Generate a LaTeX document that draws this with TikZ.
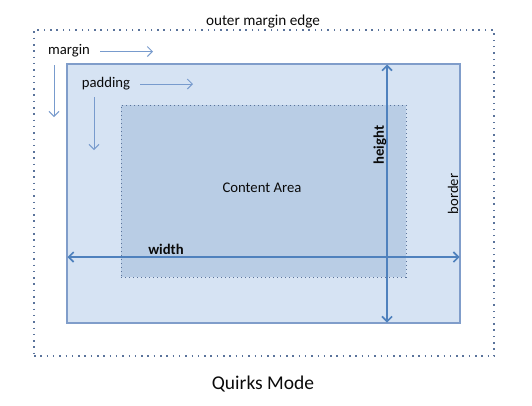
\documentclass[tikz,border=0pt]{standalone}
\usepackage{fontspec}
\setmainfont{Carlito}
\usetikzlibrary{arrows.meta}
\definecolor{boxfill}{RGB}{214,227,243}
\definecolor{boxline}{RGB}{128,157,202}
\definecolor{contfill}{RGB}{185,205,229}
\definecolor{dotline}{RGB}{90,115,155}
\definecolor{arrowc}{RGB}{79,129,189}
\definecolor{smallarr}{RGB}{120,155,205}
\definecolor{txt}{RGB}{10,10,10}
\tikzset{
  lbl/.style={inner sep=0pt, text=txt, font=\fontsize{14.7}{17}\selectfont},
  bigarrow/.style={draw=arrowc, line width=1.6pt, {Straight Barb[length=5pt,width=10pt]}-{Straight Barb[length=5pt,width=10pt]}},
  smallarrow/.style={draw=smallarr, line width=1pt, -{Straight Barb[length=5pt,width=10pt]}},
}
\begin{document}
\begin{tikzpicture}[x=1pt,y=-1pt]
\useasboundingbox (0,0) rectangle (532,405);
% outer margin edge
\node (outer) [draw=dotline, line width=1.5pt, dash pattern=on 1.5pt off 4.8pt, minimum width=460pt, minimum height=326pt, inner sep=0pt] at (264,193) {};
% border box
\node (border) [draw=boxline, fill=boxfill, line width=1.3pt, minimum width=393pt, minimum height=259pt, inner sep=0pt] at (263.5,193.5) {};
% content area
\node (content) [fill=contfill, draw=dotline, line width=1pt, dash pattern=on 1pt off 3pt, minimum width=285pt, minimum height=172pt, inner sep=0pt] at (263.5,191) {};
\node (ca) [lbl] at (262,188) {Content Area};
% labels
\node (ome) [lbl, font=\fontsize{15.2}{17}\selectfont] at (263,21.5) {outer margin edge};
\node (mg) [lbl] at (69,50.5) {margin};
\node (pd) [lbl] at (106,84) {padding};
\node (qm) [inner sep=0pt, text=txt, font=\fontsize{19.5}{22}\selectfont] at (263,384) {Quirks Mode};
% small arrows
\coordinate (m1) at (100,51.5); \coordinate (m2) at (153,51.5);
\coordinate (m3) at (54,65); \coordinate (m4) at (54,117);
\coordinate (p1) at (140,84); \coordinate (p2) at (193,84);
\coordinate (p3) at (94,97); \coordinate (p4) at (94,150);
\draw[smallarrow] (m1) -- (m2);
\draw[smallarrow] (m3) -- (m4);
\draw[smallarrow] (p1) -- (p2);
\draw[smallarrow] (p3) -- (p4);
% height and width arrows
\coordinate (ht) at (387,64.5); \coordinate (hb) at (387,322.5);
\coordinate (wl) at (67.5,257); \coordinate (wr) at (459.5,257);
\draw[bigarrow] (ht) -- (hb);
\draw[bigarrow] (wl) -- (wr);
\node (wd) [lbl, font=\fontsize{14.7}{17}\selectfont\bfseries] at (166,249) {width};
\node (hg) [lbl, font=\fontsize{14.7}{17}\selectfont\bfseries, rotate=90] at (380,145) {height};
\node (bd) [lbl, rotate=90] at (453,194) {border};
\end{tikzpicture}
\end{document}
